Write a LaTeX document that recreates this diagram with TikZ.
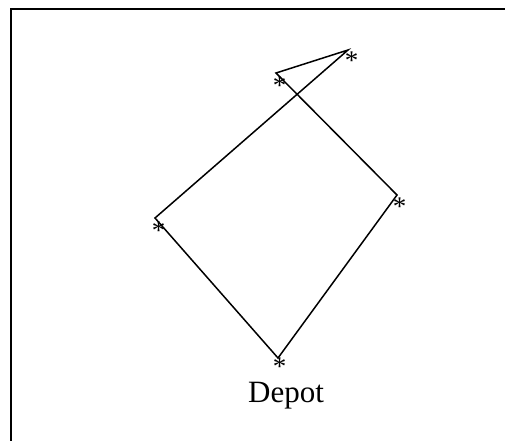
\documentclass[tikz,border=0pt]{standalone}
\usepackage{fontspec}
\setmainfont{Liberation Serif}
\begin{document}
\begin{tikzpicture}[x=1pt,y=1pt,
  route/.style={line width=1.5pt, line join=miter},
  frame/.style={line width=2pt},
  city/.style={inner sep=0pt, anchor=base, font=\fontsize{27}{27}\selectfont},
  label/.style={inner sep=0pt, anchor=base, font=\fontsize{31}{31}\selectfont}]
  \useasboundingbox (0,0) rectangle (505,440);
  % frame: only the top and left edges
  \coordinate (fTL) at (11,431);
  \coordinate (fTR) at (506,431);
  \coordinate (fBL) at (11,-1);
  \draw[frame] (fTR) -- (fTL) -- (fBL);
  % stops of the tour
  \coordinate (depot) at (278,82);
  \coordinate (west) at (155,222);
  \coordinate (ne) at (348,390);
  \coordinate (nw) at (276,367);
  \coordinate (east) at (397,245);
  % tour
  \draw[route] (depot) -- (west) -- (ne) -- (nw) -- (east) -- cycle;
  % city markers
  \node[city] (sdepot) at (279.5,65) {*};
  \node[city] (swest) at (158.5,201) {*};
  \node[city] (sne) at (351.5,370) {*};
  \node[city] (snw) at (279.5,345) {*};
  \node[city] (seast) at (399.5,225) {*};
  \node[label] (dlabel) at (286,38) {Depot};
\end{tikzpicture}
\end{document}
